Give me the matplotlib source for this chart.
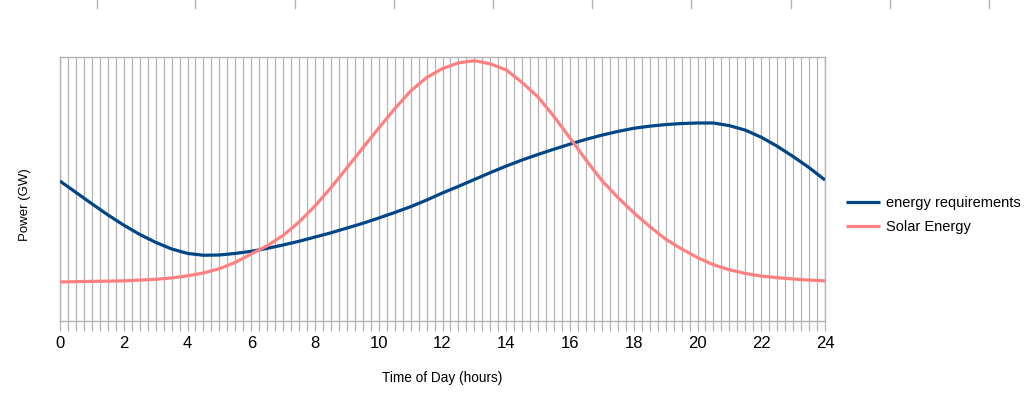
import matplotlib
matplotlib.use("Agg")
import matplotlib.pyplot as plt
from matplotlib.lines import Line2D
import numpy as np

plt.rcParams['font.family'] = ['Liberation Sans', 'DejaVu Sans']

hours = [0, 0.5, 1, 1.5, 2, 2.5, 3, 3.5, 4, 4.5, 5, 5.5, 6, 6.5, 7, 7.5, 8, 8.5,
         9, 9.5, 10, 10.5, 11, 11.5, 12, 12.5, 13, 13.5, 14, 14.5, 15, 15.5, 16,
         16.5, 17, 17.5, 18, 18.5, 19, 19.5, 20, 20.5, 21, 21.5, 22, 22.5, 23,
         23.5, 24]
energy_requirements = [53.0, 48.7, 44.4, 40.2, 36.3, 32.8, 29.8, 27.3, 25.6, 24.9,
                       25.0, 25.6, 26.4, 27.5, 28.8, 30.2, 31.8, 33.4, 35.2, 37.0,
                       39.0, 41.1, 43.3, 45.8, 48.5, 51.0, 53.6, 56.2, 58.7, 61.0,
                       63.1, 65.1, 67.0, 68.8, 70.4, 71.8, 73.0, 73.8, 74.4, 74.8,
                       75.0, 75.0, 74.0, 72.3, 69.6, 66.2, 62.3, 58.1, 53.4]
solar_energy = [14.8, 14.9, 15.0, 15.1, 15.2, 15.5, 15.8, 16.3, 17.1, 18.2,
                19.8, 22.2, 25.4, 28.5, 32.4, 37.5, 43.6, 50.5, 58.0, 65.6,
                73.1, 80.4, 87.1, 92.2, 95.6, 97.8, 98.6, 97.4, 95.1, 90.3,
                84.8, 77.4, 69.3, 61.0, 53.2, 46.8, 41.0, 35.8, 31.0, 27.3,
                24.0, 21.3, 19.4, 18.0, 17.0, 16.4, 15.9, 15.5, 15.2]
major_ticks = list(range(0, 25, 2))

W, H = 1033, 393
fig = plt.figure(figsize=(W / 100, H / 100), dpi=100)
ax = fig.add_axes([60 / W, 1 - 321 / H, (825 - 60) / W, (321 - 57) / H])

grid_c = '#b3b3b3'
ax.plot(hours, energy_requirements, color='#004586', lw=2.3, label='energy requirements',
        solid_joinstyle='round', solid_capstyle='butt', zorder=3)
ax.plot(hours, solar_energy, color='#ff8080', lw=2.3, label='Solar Energy',
        solid_joinstyle='round', solid_capstyle='butt', zorder=3)

ax.set_xlim(0, 24)
ax.set_ylim(0, 100)
ax.set_xticks(major_ticks)
ax.set_xticks(np.arange(0, 24.01, 0.25), minor=True)
ax.set_yticks([])
ax.grid(True, which='both', axis='x', color=grid_c, lw=0.9, zorder=1)
for s in ax.spines.values():
    s.set_color(grid_c)
    s.set_linewidth(1.0)
ax.tick_params(axis='x', which='both', direction='out', length=7, width=0.9,
               color=grid_c, labelsize=12, pad=4)
ax.tick_params(axis='y', length=0)

ax.set_xlabel('Time of Day (hours)', fontsize=9.8, labelpad=14)
fig.text(25 / W, 1 - 205 / H, 'Power (GW)', rotation=90, fontsize=9.5,
         ha='center', va='center')

leg = ax.legend(loc='center left', bbox_to_anchor=(846 / W, 1 - 215 / H),
                bbox_transform=fig.transFigure, frameon=False, fontsize=10.5,
                borderpad=0, borderaxespad=0,
                handlelength=2.3, handletextpad=0.45, labelspacing=0.72)

# small gray ticks along the top edge
for x in [97, 195, 295, 394, 493, 592, 691, 791, 890, 989]:
    fig.add_artist(Line2D([x / W, x / W], [1, 1 - 8 / H], transform=fig.transFigure,
                          color=grid_c, lw=1.0))

fig.savefig('out.png', dpi=100)
